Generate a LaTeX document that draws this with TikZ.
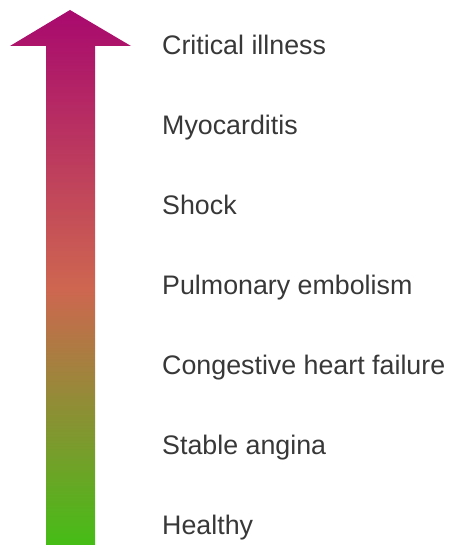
\documentclass[tikz,border=0pt]{standalone}
\usepackage{fontspec}
\setmainfont{Liberation Sans}
\usepackage{tikz}
\usetikzlibrary{positioning}
\definecolor{SevereTop}{HTML}{A8096E}
\definecolor{MidSalmon}{HTML}{CE6650}
\definecolor{HealthyGreen}{HTML}{45BD16}
\definecolor{LabelGray}{HTML}{383838}
\pgfdeclareverticalshading{sevshade}{100bp}{color(0bp)=(HealthyGreen); color(25bp)=(HealthyGreen);
  color(49bp)=(MidSalmon); color(75bp)=(SevereTop); color(100bp)=(SevereTop)}
\tikzset{
  sevlabel/.style={anchor=base west, inner sep=0pt, text=LabelGray,
                   font=\fontsize{26.8}{30}\selectfont},
  sevarrow/.style={shading=sevshade, draw=none}
}

\begin{document}
\begin{tikzpicture}[x=1pt, y=-1pt]
\useasboundingbox (0,0) rectangle (448,545);
% severity arrow
\shade[sevarrow] (46,545) -- (46,46) -- (10,46) -- (70,10) -- (131,46) -- (95,46) -- (95,545) -- cycle;
% labels, top to bottom
\node[sevlabel] (crit) at (162,54.5) {Critical illness};
\node[sevlabel, below=80pt of crit.base west, anchor=base west] (myo) {Myocarditis};
\node[sevlabel, below=80pt of myo.base west, anchor=base west] (shock) {Shock};
\node[sevlabel, below=80pt of shock.base west, anchor=base west] (pe) {Pulmonary embolism};
\node[sevlabel, below=80pt of pe.base west, anchor=base west] (chf) {Congestive heart failure};
\node[sevlabel, below=80pt of chf.base west, anchor=base west] (angina) {Stable angina};
\node[sevlabel, below=80pt of angina.base west, anchor=base west] (healthy) {Healthy};
\end{tikzpicture}
\end{document}
